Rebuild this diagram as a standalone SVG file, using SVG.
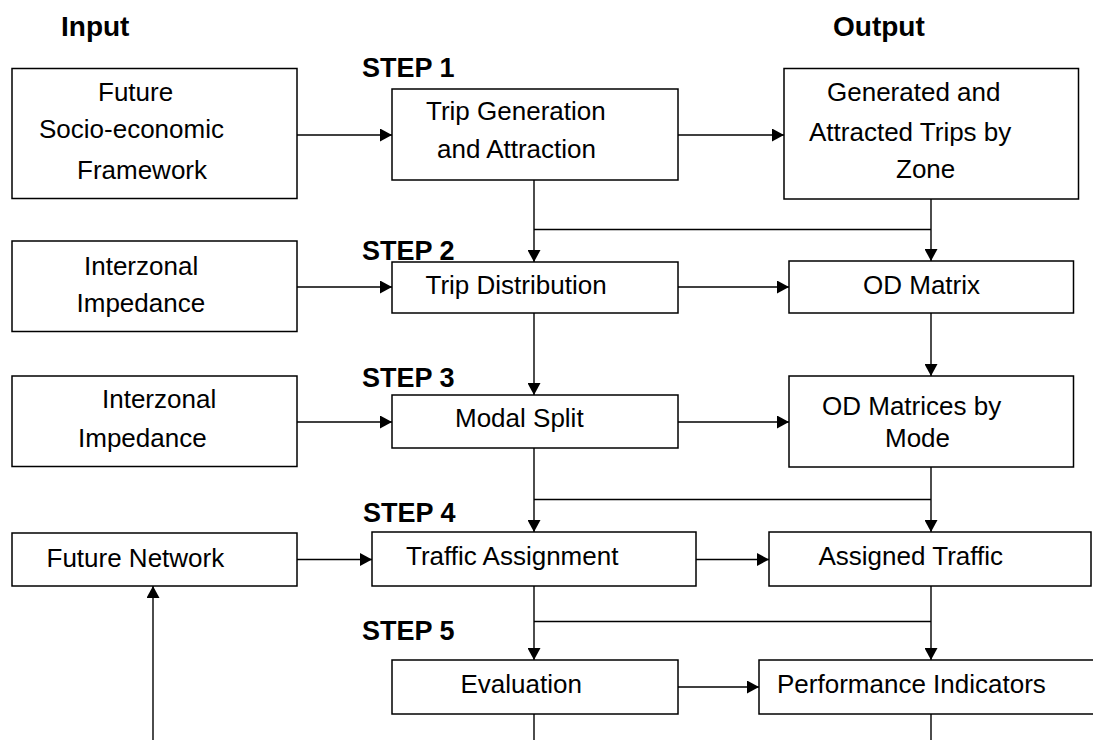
<svg xmlns="http://www.w3.org/2000/svg" width="1093" height="740" viewBox="0 0 1093 740">
<style>
.box{fill:#fff;stroke:#000;stroke-width:1.5}
.t{font-family:"Liberation Sans",Arial,sans-serif;font-size:26px;fill:#000}
.h{font-family:"Liberation Sans",Arial,sans-serif;font-size:28px;font-weight:bold;fill:#000}
.s{font-family:"Liberation Sans",Arial,sans-serif;font-size:27px;font-weight:bold;fill:#000}
.c{fill:none;stroke:#000;stroke-width:1.4}
</style>
<defs>
<marker id="ah" markerUnits="userSpaceOnUse" markerWidth="13" markerHeight="13" refX="12" refY="6.5" orient="auto">
<path d="M0,0 L12,6.5 L0,13 z" fill="#000"/>
</marker>
</defs>
<rect width="1093" height="740" fill="#fff"/>
<g id="headers">
<text class="h" x="61" y="36">Input</text>
<text class="h" x="833" y="36">Output</text>
</g>
<g id="steps">
<text class="s" x="362" y="77">STEP 1</text>
<text class="s" x="362" y="260">STEP 2</text>
<text class="s" x="362" y="387">STEP 3</text>
<text class="s" x="363" y="522">STEP 4</text>
<text class="s" x="362" y="640">STEP 5</text>
</g>
<g id="connectors">
<line class="c" x1="297" y1="135" x2="392" y2="135" marker-end="url(#ah)"/>
<line class="c" x1="678" y1="135" x2="784" y2="135" marker-end="url(#ah)"/>
<line class="c" x1="534" y1="180" x2="534" y2="262" marker-end="url(#ah)"/>
<line class="c" x1="931" y1="199" x2="931" y2="261" marker-end="url(#ah)"/>
<line class="c" x1="534" y1="229.5" x2="931" y2="229.5"/>
<line class="c" x1="297" y1="287" x2="392" y2="287" marker-end="url(#ah)"/>
<line class="c" x1="678" y1="287" x2="789" y2="287" marker-end="url(#ah)"/>
<line class="c" x1="534" y1="313" x2="534" y2="395" marker-end="url(#ah)"/>
<line class="c" x1="931" y1="313" x2="931" y2="376" marker-end="url(#ah)"/>
<line class="c" x1="297" y1="422" x2="392" y2="422" marker-end="url(#ah)"/>
<line class="c" x1="678" y1="422" x2="789" y2="422" marker-end="url(#ah)"/>
<line class="c" x1="534" y1="448" x2="534" y2="532" marker-end="url(#ah)"/>
<line class="c" x1="931" y1="467" x2="931" y2="532" marker-end="url(#ah)"/>
<line class="c" x1="534" y1="499.5" x2="931" y2="499.5"/>
<line class="c" x1="297" y1="559.5" x2="372" y2="559.5" marker-end="url(#ah)"/>
<line class="c" x1="696" y1="559.5" x2="769" y2="559.5" marker-end="url(#ah)"/>
<line class="c" x1="534" y1="586" x2="534" y2="660" marker-end="url(#ah)"/>
<line class="c" x1="931" y1="586" x2="931" y2="660" marker-end="url(#ah)"/>
<line class="c" x1="534" y1="621.5" x2="931" y2="621.5"/>
<line class="c" x1="678" y1="687" x2="759" y2="687" marker-end="url(#ah)"/>
<line class="c" x1="534" y1="714" x2="534" y2="740"/>
<line class="c" x1="931" y1="714" x2="931" y2="740"/>
<line class="c" x1="153" y1="740" x2="153" y2="586" marker-end="url(#ah)"/>
</g>
<g id="n-socio">
<rect class="box" x="12" y="68.5" width="285" height="130"/>
<text class="t" x="98" y="101">Future</text>
<text class="t" x="39" y="138">Socio-economic</text>
<text class="t" x="77" y="179">Framework</text>
</g>
<g id="n-tripgen">
<rect class="box" x="392" y="89" width="286" height="91"/>
<text class="t" x="426" y="120">Trip Generation</text>
<text class="t" x="437" y="158">and Attraction</text>
</g>
<g id="n-genattr">
<rect class="box" x="784" y="68.5" width="294.5" height="130.5"/>
<text class="t" x="827" y="101">Generated and</text>
<text class="t" x="809" y="141">Attracted Trips by</text>
<text class="t" x="896" y="178">Zone</text>
</g>
<g id="n-imp1">
<rect class="box" x="12" y="241" width="285" height="90.5"/>
<text class="t" x="84" y="275">Interzonal</text>
<text class="t" x="76.5" y="312">Impedance</text>
</g>
<g id="n-tripdist">
<rect class="box" x="392" y="262" width="286" height="51"/>
<text class="t" x="425.5" y="294">Trip Distribution</text>
</g>
<g id="n-od">
<rect class="box" x="789" y="261" width="284.5" height="52"/>
<text class="t" x="863" y="294">OD Matrix</text>
</g>
<g id="n-imp2">
<rect class="box" x="12" y="376" width="285" height="90.5"/>
<text class="t" x="102" y="408">Interzonal</text>
<text class="t" x="78" y="447">Impedance</text>
</g>
<g id="n-modal">
<rect class="box" x="392" y="395" width="286" height="53"/>
<text class="t" x="455" y="427">Modal Split</text>
</g>
<g id="n-odmode">
<rect class="box" x="789" y="376" width="284.5" height="91"/>
<text class="t" x="822" y="415">OD Matrices by</text>
<text class="t" x="885" y="447">Mode</text>
</g>
<g id="n-network">
<rect class="box" x="12" y="533" width="285" height="53"/>
<text class="t" x="46.5" y="567">Future Network</text>
</g>
<g id="n-assign">
<rect class="box" x="372" y="532" width="324" height="54"/>
<text class="t" x="406" y="564.5">Traffic Assignment</text>
</g>
<g id="n-assigned">
<rect class="box" x="769" y="532" width="322" height="54"/>
<text class="t" x="818.5" y="565">Assigned Traffic</text>
</g>
<g id="n-eval">
<rect class="box" x="392" y="660" width="286" height="54"/>
<text class="t" x="460.5" y="693">Evaluation</text>
</g>
<g id="n-perf">
<rect class="box" x="759" y="660" width="345" height="54"/>
<text class="t" x="777" y="693">Performance Indicators</text>
</g>
</svg>
